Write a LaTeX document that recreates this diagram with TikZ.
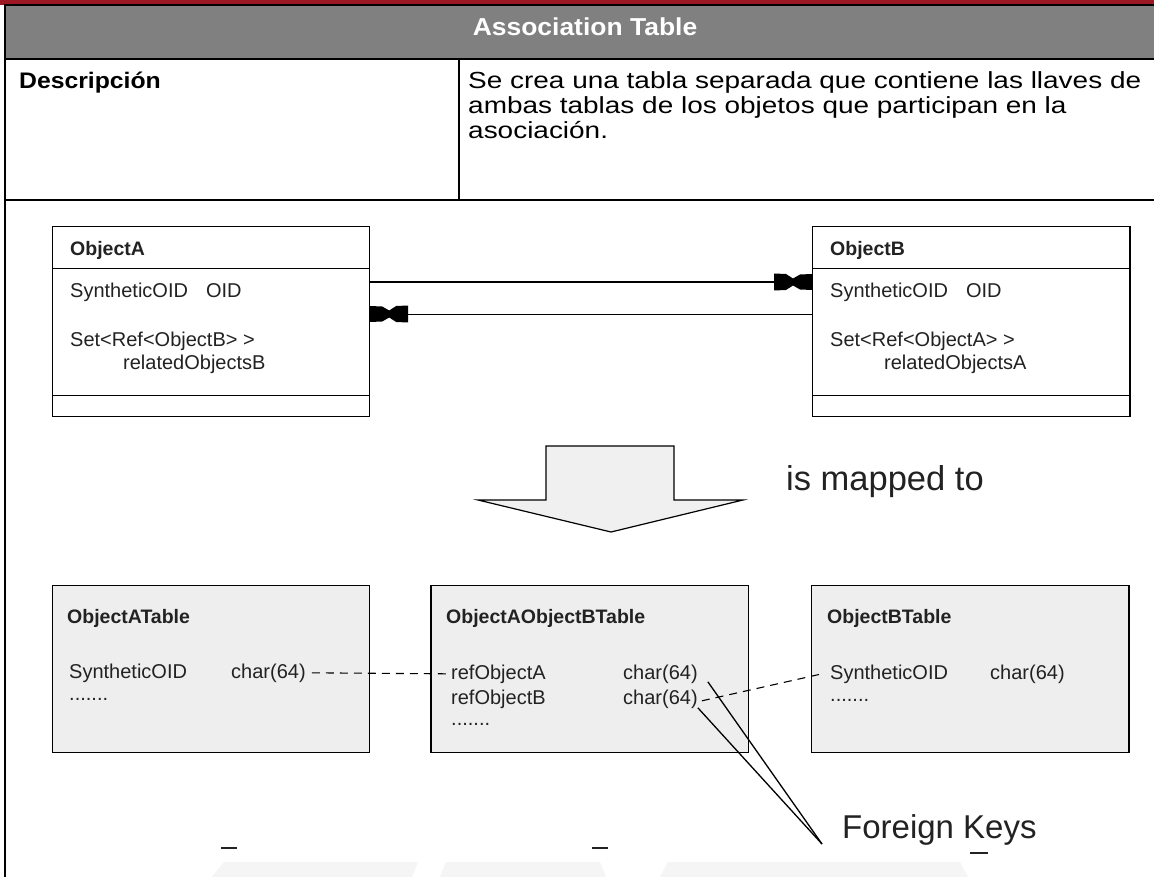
\documentclass[tikz,border=0pt]{standalone}
\usepackage{fontspec}
\setmainfont{Liberation Sans}
\newfontfamily\docfont{Liberation Sans}[FakeStretch=1.2]
\newfontfamily\labelfont{Liberation Sans}[FakeStretch=1.1]
\newfontfamily\headfont{Liberation Sans}[FakeStretch=1.08]
\usetikzlibrary{calc}
\definecolor{bandred}{RGB}{155,24,34}
\definecolor{headgray}{RGB}{128,128,128}
\definecolor{tablefill}{RGB}{238,238,238}
\definecolor{arrowfill}{RGB}{240,240,240}
\definecolor{markgray}{RGB}{245,245,245}
\definecolor{ink}{RGB}{34,34,34}

\tikzset{
  gridrule/.style={line width=2pt, black},
  classbox/.style={draw, line width=1.2pt, anchor=north west, inner sep=0pt,
                   minimum width=317pt, minimum height=190pt},
  tablebox/.style={draw, fill=tablefill, line width=1.2pt, anchor=north west,
                   inner sep=0pt, minimum width=317pt, minimum height=167pt},
  txt/.style={anchor=base west, inner sep=0pt, text=ink,
              font=\fontsize{20}{22}\selectfont},
  txtbold/.style={txt, font=\bfseries\fontsize{19.5}{22}\selectfont},
  desc/.style={anchor=base west, inner sep=0pt, font=\docfont\fontsize{23.3}{26}\selectfont},
  link/.style={line width=1.3pt, black},
  fkdash/.style={line width=1.1pt, black, dash pattern=on 8pt off 6pt},
  pics/bowtie/.style={code={
    \fill (0,-8.5) -- (12,-8) -- (19,-3.5) -- (26,-7.5) -- (38,-8) --
          (38,8) -- (26,7.5) -- (19,3.5) -- (12,8) -- (0,8.5) -- cycle;}}
}

\begin{document}
\begin{tikzpicture}[x=1pt,y=-1pt]
\useasboundingbox (0,0) rectangle (1154,877);
\fill[white] (0,0) rectangle (1154,877);

% faint crest at the foot of the page
\fill[markgray] (212,877) -- (224,862) -- (418,862) -- (412,877) -- cycle;
\fill[markgray] (440,877) -- (446,862) -- (600,862) -- (606,877) -- cycle;
\fill[markgray] (660,877) -- (668,862) -- (960,862) -- (968,877) -- cycle;

% ---------- document table ----------
\fill[bandred] (0,0) rectangle (1154,5);
\fill[headgray] (5,5) rectangle (1160,59);
\draw[gridrule] (5,5) -- (1160,5);
\draw[gridrule] (5,59) -- (1160,59);
\draw[gridrule] (5,200) -- (1160,200);
\draw[gridrule] (5,4) -- (5,880);
\draw[gridrule] (459,59) -- (459,200);

\node[font=\headfont\bfseries\fontsize{24.5}{28}\selectfont, text=white] (title) at (585,27) {Association Table};
\node[desc, font=\labelfont\bfseries\fontsize{22.5}{26}\selectfont] (desclabel) at (19,89) {Descripción};
\node[desc] (descA) at (468,89)  {Se crea una tabla separada que contiene las llaves de};
\node[desc] (descB) at (468,114) {ambas tablas de los objetos que participan en la};
\node[desc] (descC) at (468,139) {asociación.};

% ---------- class diagram ----------
\node[classbox] (objA) at (52,226) {};
\draw[line width=1pt] ($(objA.north west)+(0,43)$) -- ($(objA.north east)+(0,43)$);
\draw[line width=1pt] ($(objA.north west)+(0,169)$) -- ($(objA.north east)+(0,169)$);
\node[txtbold] (objAname) at (70,256) {ObjectA};
\node[txt] (objAoid) at (70,298) {SyntheticOID\hspace{18pt}OID};
\node[txt] (objAset) at (70,346) {Set<Ref<ObjectB> >};
\node[txt] (objArel) at (123,369) {relatedObjectsB};

\node[classbox] (objB) at (812,226) {};
\draw[line width=2pt] (objB.north east) -- (objB.south east);
\draw[line width=1pt] ($(objB.north west)+(0,43)$) -- ($(objB.north east)+(0,43)$);
\draw[line width=1pt] ($(objB.north west)+(0,169)$) -- ($(objB.north east)+(0,169)$);
\node[txtbold] (objBname) at (830,256) {ObjectB};
\node[txt] (objBoid) at (830,298) {SyntheticOID\hspace{18pt}OID};
\node[txt] (objBset) at (830,346) {Set<Ref<ObjectA> >};
\node[txt] (objBrel) at (884,369) {relatedObjectsA};

% the two directed references between the classes
\coordinate (rowtop) at (0,282);
\coordinate (rowbot) at (0,314);
\draw[line width=2.4pt] (objA.east |- rowtop) -- ($(objB.west |- rowtop)+(-30,0)$);
\pic at ($(objB.west |- rowtop)+(-38,0)$) {bowtie};
\draw[line width=0.9pt] (objB.west |- rowbot) -- ($(objA.east |- rowbot)+(30,0)$);
\pic[xscale=-1] at ($(objA.east |- rowbot)+(38,0)$) {bowtie};

% ---------- mapping arrow ----------
\draw[fill=arrowfill, line width=1.2pt, line join=miter]
  (546,446) -- (674,446) -- (674,500) -- (743,500) -- (611,532) --
  (478,500) -- (546,500) -- cycle;
\node[anchor=base west, inner sep=0pt, text=ink, font=\fontsize{34.5}{40}\selectfont]
  (mapped) at (786,490) {is mapped to};

% ---------- relational tables ----------
\node[tablebox] (tabA) at (52,585) {};
\node[txtbold] (tabAname) at (67,623) {ObjectATable};
\node[txt] (tabAoid) at (69,678) {SyntheticOID};
\node[txt] (tabAchar) at (231,678) {char(64)};
\node[txt] (tabAmore) at (69,700) {.......};

\node[tablebox] (tabAB) at (431,585) {};
\draw[line width=2.4pt] (tabAB.north west) -- (tabAB.south west);
\node[txtbold] (tabABname) at (446,623) {ObjectAObjectBTable};
\node[txt] (refA) at (451,679) {refObjectA};
\node[txt] (refAchar) at (623,679) {char(64)};
\node[txt] (refB) at (451,704) {refObjectB};
\node[txt] (refBchar) at (623,704) {char(64)};
\node[txt] (tabABmore) at (451,725) {.......};

\node[tablebox] (tabB) at (811,585) {};
\draw[line width=2.4pt] (tabB.north east) -- (tabB.south east);
\node[txtbold] (tabBname) at (827,623) {ObjectBTable};
\node[txt] (tabBoid) at (830,679) {SyntheticOID};
\node[txt] (tabBchar) at (990,679) {char(64)};
\node[txt] (tabBmore) at (830,701) {.......};

% key columns joined by dashed lines
\draw[fkdash] ($(tabAchar.east)+(6,0)$) -- ($(refA.west)+(-4,0)$);
\draw[fkdash] ($(refBchar.east)+(4,2)$) -- ($(tabBoid.west)+(-8,0)$);

% foreign key callout
\node[anchor=base west, inner sep=0pt, text=ink, font=\fontsize{33}{38}\selectfont]
  (fk) at (842,838) {Foreign Keys};
\coordinate (fkpoint) at (822,844);
\draw[link] ($(refAchar.east)+(10,8)$) -- (fkpoint);
\draw[link] ($(refBchar.east)+(0,9)$) -- (fkpoint);

% short strokes near the foot
\draw[line width=1.6pt, ink] (221,848) -- (237,848);
\draw[line width=1.6pt, ink] (592,848) -- (608,848);
\draw[line width=1.6pt, ink] (970,853) -- (988,853);
\end{tikzpicture}
\end{document}
